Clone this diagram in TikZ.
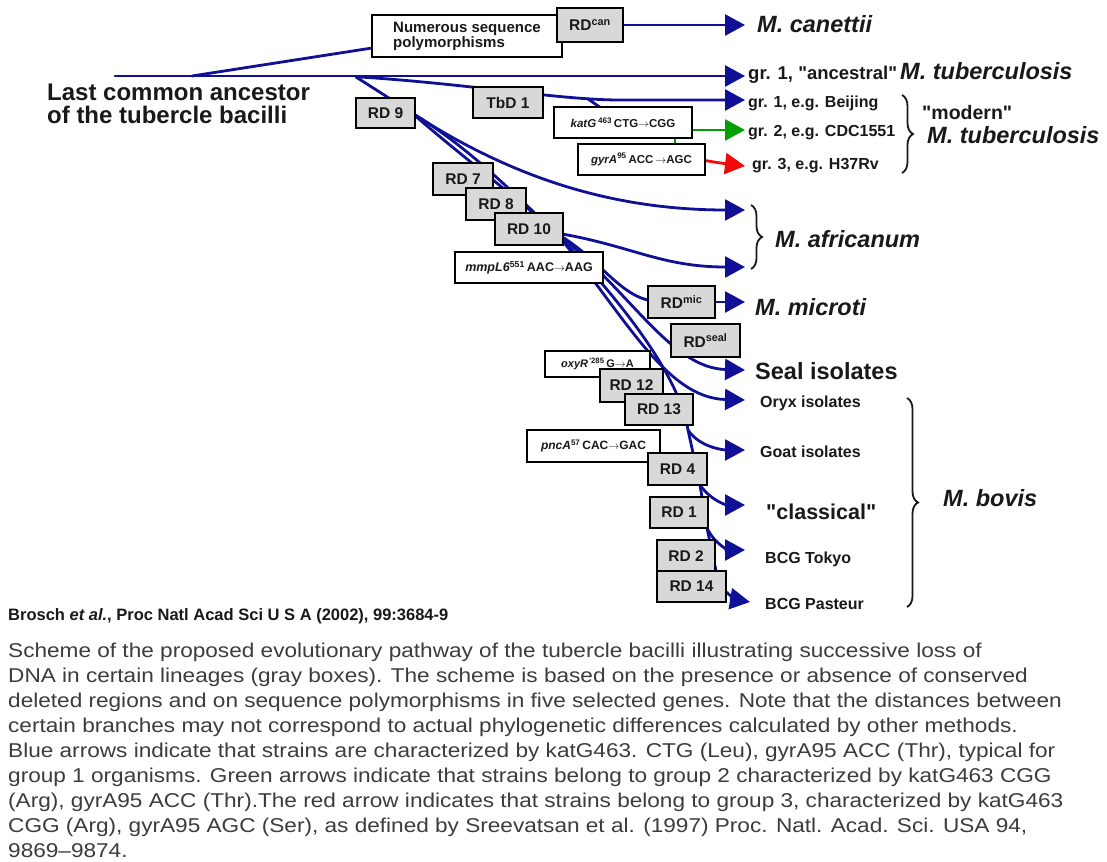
\documentclass[tikz,border=0pt]{standalone}
\usepackage{fontspec}
\usepackage{graphicx}
\setmainfont{Liberation Sans}
\usetikzlibrary{arrows.meta,decorations.pathreplacing}
\pgfdeclarelayer{background}
\pgfdeclarelayer{lines}
\pgfsetlayers{background,lines,main}
\definecolor{lineblue}{RGB}{16,16,150}
\definecolor{linegreen}{RGB}{0,160,0}
\definecolor{linered}{RGB}{240,10,10}
\definecolor{boxgray}{RGB}{216,216,216}
\definecolor{captiongray}{RGB}{60,60,60}
\definecolor{labelblack}{RGB}{25,25,25}
\newcommand{\fsz}[2]{\fontsize{#1}{#2}\selectfont}
\newcommand{\seqarrow}{{\fontsize{11}{11}\selectfont$\rightarrow$}}
\newcommand{\qq}{\textquotedbl}
\begin{document}
\begin{tikzpicture}[x=1pt,y=-1pt,
  branch/.style={draw=lineblue, line width=2.8pt, line cap=round},
  headed/.style={-{Triangle[length=20pt,width=21pt]}},
  rdbox/.style={draw=black, line width=1.8pt, fill=boxgray, text=labelblack, inner sep=0pt, font=\fsz{15.5}{16}\bfseries},
  seqbox/.style={draw=black, line width=1.8pt, fill=white, text=labelblack, inner sep=0pt, font=\fsz{11.5}{12}\bfseries},
  lbl/.style={inner sep=0pt, text=labelblack, anchor=base west},
  species/.style={lbl, font=\fsz{23.5}{26}\bfseries\itshape},
  strainlbl/.style={lbl, font=\fsz{16}{18}\bfseries},
  bracestyle/.style={draw=labelblack, line width=1.8pt, decorate, decoration={brace, amplitude=11pt}}
]
\useasboundingbox (0,0) rectangle (1107,861);
\begin{pgfonlayer}{background}
\fill[white] (0,0) rectangle (1107,861);
\end{pgfonlayer}

% ---------- boxes ----------
\node[seqbox, minimum width=190pt, minimum height=42pt, align=left, font=\fsz{15}{15}\bfseries] (numerous) at (467,36) {Numerous sequence\\polymorphisms};
\node[rdbox, minimum width=66pt, minimum height=34pt] (rdcan) at (590,25) {RD\textsuperscript{can}};
\node[rdbox, minimum width=70pt, minimum height=31pt] (tbd1) at (508,102.5) {TbD 1};
\node[seqbox, minimum width=138pt, minimum height=31pt] (katg) at (623,122.5) {\textit{katG}\,\textsuperscript{463}\,CTG\seqarrow CGG};
\node[seqbox, minimum width=127pt, minimum height=31pt] (gyra) at (641.5,159.5) {\textit{gyrA}\textsuperscript{95}\,ACC\,\seqarrow AGC};
\node[rdbox, minimum width=59pt, minimum height=30pt] (rd9) at (385.5,113) {RD 9};
\node[rdbox, minimum width=60pt, minimum height=32pt] (rd7) at (463,179) {RD 7};
\node[rdbox, minimum width=60pt, minimum height=32pt] (rd8) at (496,204) {RD 8};
\node[rdbox, minimum width=68pt, minimum height=32pt] (rd10) at (529,229) {RD 10};
\node[seqbox, minimum width=148pt, minimum height=31pt, font=\fsz{12.5}{13}\bfseries] (mmpl6) at (529,267.5) {\textit{mmpL6}\textsuperscript{551}\,AAC\seqarrow AAG};
\node[rdbox, minimum width=67pt, minimum height=32pt] (rdmic) at (681.5,302) {RD\textsuperscript{mic}};
\node[rdbox, minimum width=69pt, minimum height=33pt] (rdseal) at (705.5,340.5) {RD\textsuperscript{seal}};
\node[seqbox, minimum width=105pt, minimum height=26pt, font=\fsz{11}{12}\bfseries] (oxyr) at (597.5,364) {\textit{oxyR}\textsuperscript{\,\textquotesingle285}\,G\seqarrow A};
\node[rdbox, minimum width=63pt, minimum height=33pt] (rd12) at (631.5,385.5) {RD 12};
\node[rdbox, minimum width=68pt, minimum height=31pt] (rd13) at (659,409.5) {RD 13};
\node[seqbox, minimum width=133pt, minimum height=32pt, font=\fsz{12}{13}\bfseries] (pnca) at (593.5,446) {\textit{pncA}\textsuperscript{57}\,CAC\seqarrow GAC};
\node[rdbox, minimum width=59pt, minimum height=32pt] (rd4) at (677.5,469) {RD 4};
\node[rdbox, minimum width=58pt, minimum height=31pt] (rd1) at (679,512.5) {RD 1};
\node[rdbox, minimum width=58pt, minimum height=32pt] (rd2) at (686,556) {RD 2};
\node[rdbox, minimum width=69pt, minimum height=31pt] (rd14) at (691.5,586.5) {RD 14};

% ---------- labels ----------
\node[lbl, align=left, anchor=north west, font=\fsz{24}{23}\bfseries] (lca) at (47,84) {Last common ancestor\\of the tubercle bacilli};
\node[species] (canettii) at (757,33) {M. canettii};
\node[lbl, font=\fsz{18.5}{20}\bfseries] (ancestral) at (748,80) {gr. 1, \qq ancestral\qq};
\node[species] (tub1) at (900,80) {M. tuberculosis};
\node[strainlbl] (beijing) at (748,108) {gr. 1, e.g. Beijing};
\node[strainlbl] (cdc) at (748,137) {gr. 2, e.g. CDC1551};
\node[strainlbl] (h37) at (752,169) {gr. 3, e.g. H37Rv};
\node[lbl, font=\fsz{19.5}{20}\bfseries] (modern) at (922,120) {\qq modern\qq};
\node[species] (tub2) at (927,144) {M. tuberculosis};
\node[species] (africanum) at (775,247) {M. africanum};
\node[species] (microti) at (755,315) {M. microti};
\node[lbl, font=\fsz{23.5}{26}\bfseries] (seal) at (755,379) {Seal isolates};
\node[strainlbl] (oryx) at (760,407) {Oryx isolates};
\node[strainlbl] (goat) at (760,457) {Goat isolates};
\node[lbl, font=\fsz{21.5}{24}\bfseries] (classical) at (766,519) {\qq classical\qq};
\node[strainlbl] (tokyo) at (765,563) {BCG Tokyo};
\node[strainlbl] (pasteur) at (765,609) {BCG Pasteur};
\node[species] (bovis) at (943,506) {M. bovis};

\node[lbl, font=\fsz{16.5}{18}\bfseries] (cite) at (8,620) {Brosch \textit{et al.}, Proc Natl Acad Sci U S A (2002), 99:3684-9};
\node[lbl, anchor=north west, text=captiongray] (caption) at (8,639.4) {\scalebox{1.13}[1]{\fsz{20}{25.1}\begin{tabular}{@{}l@{}}
Scheme of the proposed evolutionary pathway of the tubercle bacilli illustrating successive loss of\\
DNA in certain lineages (gray boxes). The scheme is based on the presence or absence of conserved\\
deleted regions and on sequence polymorphisms in five selected genes. Note that the distances between\\
certain branches may not correspond to actual phylogenetic differences calculated by other methods.\\
Blue arrows indicate that strains are characterized by katG463. CTG (Leu), gyrA95 ACC (Thr), typical for\\
group 1 organisms. Green arrows indicate that strains belong to group 2 characterized by katG463 CGG\\
(Arg), gyrA95 ACC (Thr).The red arrow indicates that strains belong to group 3, characterized by katG463\\
CGG (Arg), gyrA95 AGC (Ser), as defined by Sreevatsan et al. (1997) Proc. Natl. Acad. Sci. USA 94,\\
9869--9874.
\end{tabular}}};

% ---------- coordinates ----------
\coordinate (root) at (115,76);
\coordinate (canSplit) at (192,76);
\coordinate (numIn) at (385,46);
\coordinate (tipCan) at (745,25);
\coordinate (tipAnc) at (745,76);
\coordinate (tbSplit) at (360,77);
\coordinate (tbBend) at (620,100);
\coordinate (tipBei) at (745,100);
\coordinate (katSplit) at (588,99);
\coordinate (katIn) at (604,110);
\coordinate (katOut) at (688,130);
\coordinate (tipCDC) at (745,130);
\coordinate (gLinkA) at (675,134);
\coordinate (gLinkB) at (675,148);
\coordinate (gyrOut) at (702,160);
\coordinate (tipH37) at (745,166);
\coordinate (rd9Split) at (356,77);
\coordinate (rd9In) at (392,100);
\coordinate (rd9Out) at (412,113);
\coordinate (tipAfA) at (745,210);
\coordinate (rd10Out) at (556,233);
\coordinate (tipAfB) at (745,267);
\coordinate (micIn) at (660,302);
\coordinate (tipMic) at (745,302);
\coordinate (tipSeal) at (745,370);
\coordinate (tipOryx) at (745,400);
\coordinate (spineA) at (688,430);
\coordinate (tipGoat) at (745,450);
\coordinate (spineB) at (700,485);
\coordinate (tipClass) at (745,505);
\coordinate (spineC) at (707,528);
\coordinate (tipTokyo) at (745,550);
\coordinate (spineD) at (719,585);
\coordinate (tipPasteur) at (750,602);
\coordinate (modTop) at (902,95);
\coordinate (modBot) at (902,173);
\coordinate (afTop) at (751,205);
\coordinate (afBot) at (751,269);
\coordinate (bovTop) at (907,398);
\coordinate (bovBot) at (907,607);

% ---------- connectors ----------
\begin{pgfonlayer}{lines}
\draw[branch, headed] (root) -- (tipAnc);
\draw[branch] (canSplit) -- (numIn);
\draw[branch, headed] (rdcan.east) -- (tipCan);
\draw[branch, headed] (tbSplit) .. controls (470,84) and (560,100) .. (tbBend) -- (tipBei);
\draw[branch] (katSplit) -- (katIn);
\draw[branch, draw=linegreen, headed] (katOut) -- (tipCDC);
\draw[branch, draw=linegreen] (gLinkA) -- (gLinkB);
\draw[branch, draw=linered, headed] (gyrOut) .. controls (720,163) .. (tipH37);
\draw[branch] (rd9Split) -- (rd9In);
\draw[branch, headed] (rd9Out) .. controls (500,170) and (600,210) .. (tipAfA);
\draw[branch] (rd9Out) .. controls (460,155) and (520,200) .. (rd10Out);
\draw[branch] (rd9Out) .. controls (470,148) and (515,195) .. (rd10Out);
\draw[branch, headed] (rd10Out) .. controls (630,245) and (660,267) .. (tipAfB);
\draw[branch] (rd10Out) .. controls (605,262) and (620,300) .. (micIn);
\draw[branch, headed] (rdmic.east) -- (tipMic);
\draw[branch, headed] (rd10Out) .. controls (630,290) and (670,368) .. (tipSeal);
\draw[branch, headed] (rd10Out) .. controls (625,315) and (665,398) .. (tipOryx);
\draw[branch] (rd10Out) .. controls (630,310) and (680,380) .. (spineA) -- (spineB) -- (spineC) -- (spineD);
\draw[branch, headed] (spineD) .. controls (728,595) and (738,600) .. (tipPasteur);
\draw[branch, headed] (spineA) .. controls (700,448) and (725,450) .. (tipGoat);
\draw[branch, headed] (spineB) .. controls (712,502) and (728,505) .. (tipClass);
\draw[branch, headed] (spineC) .. controls (715,545) and (730,550) .. (tipTokyo);
\end{pgfonlayer}

% ---------- braces ----------
\draw[bracestyle] (modTop) -- (modBot);
\draw[bracestyle] (afTop) -- (afBot);
\draw[bracestyle] (bovTop) -- (bovBot);
\end{tikzpicture}
\end{document}
